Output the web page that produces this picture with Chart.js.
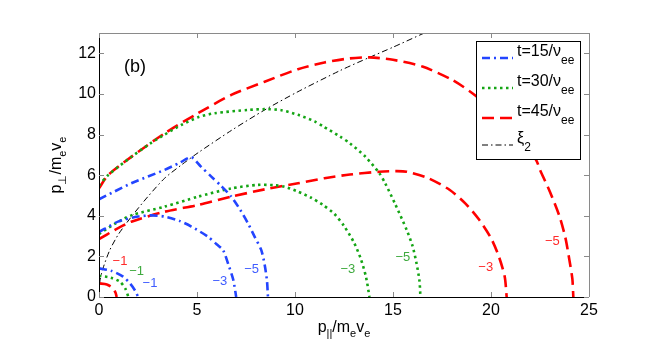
<!DOCTYPE html>
<html>
<head>
<meta charset="utf-8">
<script src="https://cdn.jsdelivr.net/npm/chart.js@4.4.0/dist/chart.umd.min.js"></script>
<style>
  html, body { margin: 0; padding: 0; background: #fff; }
</style>
</head>
<body>
<canvas id="contours" width="664" height="350"></canvas>
<script>
// contour lines, [p_par, p_perp] pairs
const t15Lvl1 = [[0, 1.41], [0.6, 1.3], [1.23, 1.0], [1.6, 0.65], [1.85, 0.3], [2.0, 0]];
const t15Lvl3 = [[0, 3.2], [0.97, 3.71], [1.99, 3.96], [2.7, 4.02], [3.35, 3.96], [4.1, 3.75], [4.71, 3.47],
  [5.56, 2.97], [6.0, 2.6], [6.33, 2.31], [6.6, 1.6], [6.85, 0.85], [7.0, 0]];
const t15Lvl5 = [[0, 4.81], [0.8, 5.2], [1.65, 5.6], [2.5, 5.93], [3.35, 6.26], [4.1, 6.6], [4.71, 6.88],
  [5.2, 6.42], [5.73, 5.93], [6.25, 5.45], [6.75, 4.94], [7.2, 4.3], [7.6, 3.63], [7.95, 2.95],
  [8.28, 2.31], [8.45, 1.6], [8.57, 0.8], [8.62, 0]];

const t30Lvl1 = [[0, 1.05], [0.6, 0.95], [1.07, 0.75], [1.35, 0.4], [1.5, 0]];
const t30Lvl3 = [[0, 3.1], [0.8, 3.6], [1.65, 4.02], [3.35, 4.45], [5.05, 4.94], [6.75, 5.35], [8.1, 5.52],
  [9.0, 5.5], [9.47, 5.43], [10.15, 5.19], [10.8, 4.9], [11.4, 4.55], [12.0, 4.1], [12.5, 3.5],
  [13.0, 2.7], [13.35, 1.9], [13.62, 1.0], [13.8, 0]];
const t30Lvl5 = [[0, 5.5], [0.46, 6.0], [1.65, 6.9], [2.6, 7.55], [3.35, 8.0], [4.2, 8.47], [5.05, 8.85],
  [5.9, 9.05], [7.6, 9.21], [8.45, 9.25], [9.3, 9.2], [10.15, 8.97], [11.0, 8.65], [11.44, 8.4],
  [12.3, 7.9], [12.8, 7.57], [13.6, 6.9], [14.3, 6.1], [14.6, 5.6], [15.1, 4.6], [15.7, 3.3],
  [16.0, 2.5], [16.2, 1.66], [16.35, 0.8], [16.4, 0]];

const t45Lvl1 = [[0, 0.67], [0.4, 0.62], [0.7, 0.45], [0.85, 0.2], [0.9, 0]];
const t45Lvl3 = [[0, 2.85], [0.8, 3.3], [1.65, 3.71], [3.35, 4.2], [5.05, 4.53], [6.75, 4.94], [8.45, 5.3],
  [10.15, 5.6], [11.5, 5.85], [12.8, 6.03], [14.3, 6.17], [15.2, 6.2], [15.7, 6.17], [16.8, 5.85],
  [17.9, 5.27], [18.7, 4.6], [19.4, 3.8], [20.0, 2.9], [20.4, 2.0], [20.7, 1.0], [20.8, 0]];
const t45Lvl5 = [[0, 5.35], [0.46, 6.0], [1.65, 6.9], [3.35, 8.06], [5.05, 9.05], [6.75, 9.95], [8.45, 10.6],
  [10.15, 11.22], [11.5, 11.55], [12.8, 11.75], [13.8, 11.8], [15, 11.68], [16.5, 11.35], [18, 10.7],
  [19.1, 10.0], [20.3, 9.0], [21.3, 7.9], [22.3, 6.75], [22.5, 6.26], [23.0, 5.2], [23.5, 3.96],
  [23.8, 2.9], [24.0, 1.82], [24.15, 0.9], [24.2, 0]];

const xi2 = [[0, 0], [0.05, 0.8], [0.2, 1.4], [0.55, 2.31], [1.0, 3.1], [1.65, 3.95], [2.5, 4.95],
  [3.35, 5.85], [4.2, 6.5], [5.05, 7.1], [6.75, 8.2], [8.45, 9.21], [10.15, 10.11], [12.3, 11.15],
  [13.8, 11.8], [15, 12.3], [16.6, 13.0], [17.2, 13.25]];

// contour level labels (clabel)
const clabelText = ['−1', '−1', '−1', '−3', '−5', '−3', '−5', '−3', '−5'];
const clabelX = [1.07, 1.92, 2.6, 6.17, 7.79, 12.7, 15.5, 19.73, 23.13];
const clabelY = [1.74, 1.25, 0.67, 0.79, 1.36, 1.36, 1.96, 1.44, 2.72];
const clabelSeries = [2, 1, 0, 0, 0, 1, 1, 2, 2];

const legendText = ['t=15/ν', 't=30/ν', 't=45/ν', 'ξ'];
const legendSub = ['ee', 'ee', 'ee', '2'];

const xTicks = [0, 5, 10, 15, 20, 25];
const yTicks = [0, 2, 4, 6, 8, 10, 12];

const FONT = '"Liberation Sans", Arial, Helvetica, sans-serif';
const BLUE = '#2345ff', GREEN = '#14a514', RED = '#ff0000';
const seriesColor = [BLUE, GREEN, RED, '#000'];
const labelColor = ['#3f5cff', '#3faa3f', '#ff2a2a'];
const seriesDash = [[8, 4, 2, 4], [2.5, 3.5], [12, 6], [6, 3, 1.5, 3]];
const seriesWidth = [2.6, 2.6, 2.6, 1];

function toPts(arr) {
  return arr.map(p => ({ x: p[0], y: p[1] }));
}

function line(data, s, label) {
  return {
    label: label,
    data: toPts(data),
    showLine: true,
    borderColor: seriesColor[s],
    borderWidth: seriesWidth[s],
    borderDash: seriesDash[s],
    pointRadius: 0,
    tension: 0.25,
    fill: false
  };
}

// text with sub-scripts, parts = [[text, isSub], ...]
function drawRich(ctx, parts, x, y, size, subSize, drop) {
  let cx = x;
  for (const [t, sub] of parts) {
    ctx.font = (sub ? subSize : size) + 'px ' + FONT;
    ctx.fillText(t, cx, y + (sub ? drop : 0));
    cx += ctx.measureText(t).width;
  }
  return cx - x;
}
function richWidth(ctx, parts, size, subSize) {
  let w = 0;
  for (const [t, sub] of parts) {
    ctx.font = (sub ? subSize : size) + 'px ' + FONT;
    w += ctx.measureText(t).width;
  }
  return w;
}

const decorations = {
  id: 'decorations',
  afterDraw(chart) {
    const ctx = chart.ctx;
    const a = chart.chartArea;
    const xs = chart.scales.x, ys = chart.scales.y;
    ctx.save();

    // box + inward ticks
    ctx.lineWidth = 1;
    ctx.strokeStyle = '#000';
    ctx.beginPath();
    ctx.moveTo(a.left + 0.5, a.top);
    ctx.lineTo(a.left + 0.5, a.bottom + 0.5);
    ctx.lineTo(a.right, a.bottom + 0.5);
    ctx.stroke();
    ctx.strokeStyle = '#8a8a8a';
    ctx.beginPath();
    ctx.moveTo(a.left, a.top + 0.5);
    ctx.lineTo(a.right + 0.5, a.top + 0.5);
    ctx.lineTo(a.right + 0.5, a.bottom);
    ctx.stroke();
    ctx.beginPath();
    for (const v of xTicks) {
      const px = Math.round(xs.getPixelForValue(v)) + 0.5;
      ctx.moveTo(px, a.bottom); ctx.lineTo(px, a.bottom - 5);
      ctx.moveTo(px, a.top); ctx.lineTo(px, a.top + 5);
    }
    for (const v of yTicks) {
      const py = Math.round(ys.getPixelForValue(v)) + 0.5;
      ctx.moveTo(a.left, py); ctx.lineTo(a.left + 5, py);
      ctx.moveTo(a.right, py); ctx.lineTo(a.right - 5, py);
    }
    ctx.stroke();

    // contour labels
    ctx.font = '13px ' + FONT;
    ctx.textAlign = 'center';
    ctx.textBaseline = 'middle';
    clabelText.forEach((t, i) => {
      ctx.fillStyle = labelColor[clabelSeries[i]];
      ctx.fillText(t, xs.getPixelForValue(clabelX[i]), ys.getPixelForValue(clabelY[i]));
    });

    // panel tag
    ctx.fillStyle = '#000';
    ctx.font = '18px ' + FONT;
    ctx.fillText('(b)', 135, 67);

    // legend
    const lx = 476, ly = 41, lw = 104, lh = 118;
    ctx.fillStyle = '#fff';
    ctx.fillRect(lx, ly, lw, lh);
    ctx.strokeStyle = '#000';
    ctx.lineWidth = 1;
    ctx.strokeRect(lx + 0.5, ly + 0.5, lw, lh);
    const rowY = [58, 88, 118, 145];
    ctx.textAlign = 'left';
    ctx.textBaseline = 'alphabetic';
    legendText.forEach((t, i) => {
      ctx.strokeStyle = seriesColor[i];
      ctx.lineWidth = seriesWidth[i];
      ctx.setLineDash(seriesDash[i]);
      ctx.beginPath();
      ctx.moveTo(lx + 6, rowY[i]);
      ctx.lineTo(lx + 37, rowY[i]);
      ctx.stroke();
      ctx.setLineDash([]);
      ctx.fillStyle = '#000';
      drawRich(ctx, [[t, false], [legendSub[i], true]], lx + 41, rowY[i] - 2, 16, 12, 8);
    });

    // axis titles
    ctx.fillStyle = '#000';
    const xt = [['p', false], ['||', true], ['/m', false], ['e', true], ['v', false], ['e', true]];
    const xw = richWidth(ctx, xt, 16, 11);
    drawRich(ctx, xt, (a.left + a.right) / 2 - xw / 2, 332, 16, 11, 5);

    const yt = [['p', false], ['⊥', true], ['/m', false], ['e', true], ['v', false], ['e', true]];
    const yw = richWidth(ctx, yt, 16, 11);
    ctx.translate(61, (a.top + a.bottom) / 2);
    ctx.rotate(-Math.PI / 2);
    drawRich(ctx, yt, -yw / 2, 0, 16, 11, 5);

    ctx.restore();
  }
};

new Chart(document.getElementById('contours'), {
  type: 'scatter',
  data: {
    datasets: [
      line(t15Lvl1, 0, 't=15'), line(t15Lvl3, 0, 't=15'), line(t15Lvl5, 0, 't=15'),
      line(t30Lvl1, 1, 't=30'), line(t30Lvl3, 1, 't=30'), line(t30Lvl5, 1, 't=30'),
      line(t45Lvl1, 2, 't=45'), line(t45Lvl3, 2, 't=45'), line(t45Lvl5, 2, 't=45'),
      line(xi2, 3, 'xi2')
    ]
  },
  options: {
    responsive: false,
    animation: false,
    events: [],
    layout: { padding: { left: 0, right: 75, top: 33, bottom: 0 } },
    plugins: { legend: { display: false }, tooltip: { enabled: false } },
    scales: {
      x: {
        type: 'linear', min: 0, max: 25,
        grid: { display: false, drawTicks: false },
        border: { display: false },
        ticks: { stepSize: 5, includeBounds: false, color: '#000', padding: 4, maxRotation: 0,
          font: { family: FONT, size: 16 } },
        afterFit(s) { s.height = 53; }
      },
      y: {
        type: 'linear', min: 0, max: 13,
        grid: { display: false, drawTicks: false },
        border: { display: false },
        ticks: { stepSize: 2, includeBounds: false, color: '#000', padding: 3,
          font: { family: FONT, size: 16 } },
        afterFit(s) { s.width = 99; }
      }
    }
  },
  plugins: [decorations]
});
</script>
</body>
</html>
